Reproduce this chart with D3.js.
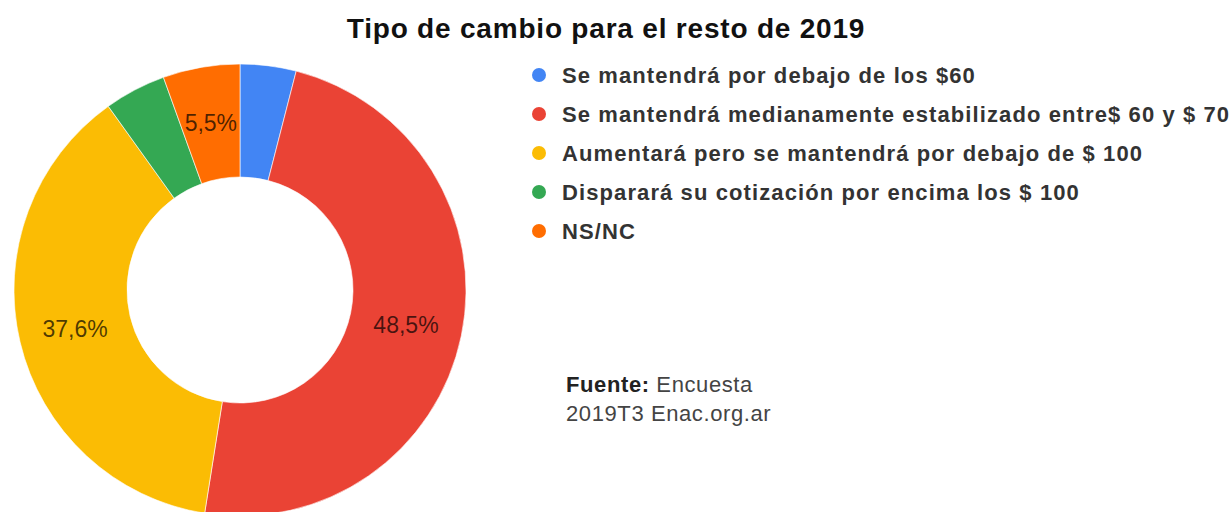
<!DOCTYPE html>
<html>
  <head>
    <meta charset="utf-8">
    <style>
      body { margin: 0; background: #fff; }
      text { font-family: "Liberation Sans", Arial, sans-serif; }
      path { stroke: #fff; stroke-width: 0.6; }
    </style>
    <script src="https://cdnjs.cloudflare.com/ajax/libs/d3/7.8.5/d3.min.js"></script>
  </head>
  <body>
    <svg width="1230" height="512" id="SVG"></svg>
    <script>
      // answers, in pie order (clockwise from 12 o'clock)
      var categories = [
        "Se mantendrá por debajo de los $60",
        "Se mantendrá medianamente estabilizado entre$ 60 y $ 70",
        "Aumentará pero se mantendrá por debajo de $ 100",
        "Disparará su cotización por encima los $ 100",
        "NS/NC"
      ];
      var values = [4.0, 48.5, 37.6, 4.4, 5.5];
      var colors = ["#4285f4", "#ea4335", "#fbbc04", "#34a853", "#ff6d01"];

      var svg = d3.select("#SVG");

      svg.append("text")
         .attr("x", 606).attr("y", 38)
         .attr("text-anchor", "middle")
         .attr("font-size", 28).attr("font-weight", "bold")
         .attr("letter-spacing", 0.8)
         .attr("fill", "#111")
         .text("Tipo de cambio para el resto de 2019");

      var cx = 240, cy = 290, outerR = 226, innerR = 113;

      var data = categories.map(function(c, i) {
        return { name: c, value: values[i], color: colors[i] };
      });

      var pie = d3.pie().sort(null).value(function(d) { return d.value });
      var arc = d3.arc().outerRadius(outerR).innerRadius(innerR);

      var pieGroup = svg.append("g")
                        .attr("transform", "translate(" + cx + "," + cy + ")");

      pieGroup.selectAll(".pie")
              .data(pie(data))
              .enter()
              .append("path")
              .attr("class", "pie")
              .attr("d", arc)
              .attr("fill", function(d) { return d.data.color });

      pieGroup.selectAll(".pietext")
              .data(pie(data).filter(function(d) { return d.data.value >= 5 }))
              .enter()
              .append("text")
              .attr("class", "pietext")
              .attr("transform", function(d) { return "translate(" + arc.centroid(d) + ")" })
              .attr("dy", "0.36em")
              .attr("text-anchor", "middle")
              .attr("font-size", 23)
              .attr("fill", "#000")
              .attr("fill-opacity", 0.7)
              .text(function(d) { return String(d.data.value.toFixed(1)).replace(".", ",") + "%" });

      var legend = svg.append("g").attr("transform", "translate(539,75)");
      var rows = legend.selectAll(".row")
                       .data(data)
                       .enter()
                       .append("g")
                       .attr("class", "row")
                       .attr("transform", function(d, i) { return "translate(0," + (i * 39) + ")" });
      rows.append("circle")
          .attr("r", 7)
          .attr("fill", function(d) { return d.color });
      rows.append("text")
          .attr("x", 23).attr("dy", "0.35em")
          .attr("font-size", 22)
          .attr("font-weight", "bold")
          .attr("letter-spacing", 1.1)
          .attr("fill", "#333")
          .text(function(d) { return d.name });

      var source = svg.append("g").attr("transform", "translate(566,392)");
      var line1 = source.append("text").attr("font-size", 22).attr("letter-spacing", 0.6).attr("fill", "#444");
      line1.append("tspan").attr("font-weight", "bold").attr("fill", "#222").text("Fuente:");
      line1.append("tspan").text(" Encuesta");
      source.append("text").attr("y", 29).attr("font-size", 22).attr("letter-spacing", 0.6).attr("fill", "#444")
            .text("2019T3 Enac.org.ar");
    </script>
  </body>
</html>
